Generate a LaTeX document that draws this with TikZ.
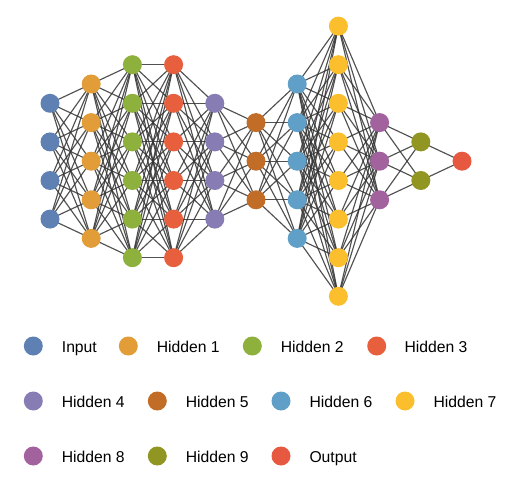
\documentclass[tikz,border=0pt]{standalone}
\usepackage{fontspec}
\setmainfont{Liberation Sans}
\usetikzlibrary{backgrounds}
\definecolor{cIn}{RGB}{94,128,178}
\definecolor{cHa}{RGB}{226,157,56}
\definecolor{cHb}{RGB}{141,177,60}
\definecolor{cHc}{RGB}{232,95,62}
\definecolor{cHd}{RGB}{136,124,180}
\definecolor{cHe}{RGB}{193,109,40}
\definecolor{cHf}{RGB}{96,160,200}
\definecolor{cHg}{RGB}{251,190,45}
\definecolor{cHh}{RGB}{162,98,158}
\definecolor{cHi}{RGB}{145,150,35}
\definecolor{cOut}{RGB}{230,88,64}
\tikzset{
  neuron/.style={circle, inner sep=0pt, minimum size=19pt, draw=none},
  edge/.style={draw=black!80, line width=1.15pt, opacity=0.85},
  legtext/.style={anchor=base west, inner sep=0pt, font=\fontsize{15.7}{18}\selectfont}
}
\begin{document}
\begin{tikzpicture}[x=1pt,y=-1pt]
\useasboundingbox (0,0) rectangle (516,497);
\foreach \k/\n/\c in {0/4/cIn,1/5/cHa,2/6/cHb,3/6/cHc,4/4/cHd,5/3/cHe,6/5/cHf,7/8/cHg,8/3/cHh,9/2/cHi,10/1/cOut}{
  \foreach \i in {1,...,\n}{
    \node[neuron, fill=\c] (L\k-\i) at ({50+41.2*\k},{161.2+(\i-(\n+1)/2)*38.6}) {};
  }
}
\begin{pgfonlayer}{background}
\foreach \k/\n/\m in {0/4/5,1/5/6,2/6/6,3/6/4,4/4/3,5/3/5,6/5/8,7/8/3,8/3/2,9/2/1}{
  \pgfmathtruncatemacro\kk{\k+1}
  \foreach \i in {1,...,\n}{
    \foreach \j in {1,...,\m}{
      \draw[edge] (L\k-\i.center) -- (L\kk-\j.center);
    }
  }
}
\end{pgfonlayer}
% legend
\foreach \nm/\cx/\cy/\tx/\c/\t in {
  a/33.3/346/61.7/cIn/Input,
  b/128.3/346/156.7/cHa/Hidden 1,
  c/252.3/346/280.7/cHb/Hidden 2,
  d/376.7/346/404.3/cHc/Hidden 3,
  e/33.3/401/61.7/cHd/Hidden 4,
  f/157.3/401/185.7/cHe/Hidden 5,
  g/281/401/309.3/cHf/Hidden 6,
  h/405/401/433.3/cHg/Hidden 7,
  i/33.3/456/61.7/cHh/Hidden 8,
  j/157.3/456/185.7/cHi/Hidden 9,
  k/281/456/309.3/cOut/Output}{
  \node[neuron, fill=\c] (leg-\nm) at (\cx,\cy) {};
  \node[legtext] (legt-\nm) at (\tx,\cy+6) {\t};
}
\end{tikzpicture}
\end{document}
